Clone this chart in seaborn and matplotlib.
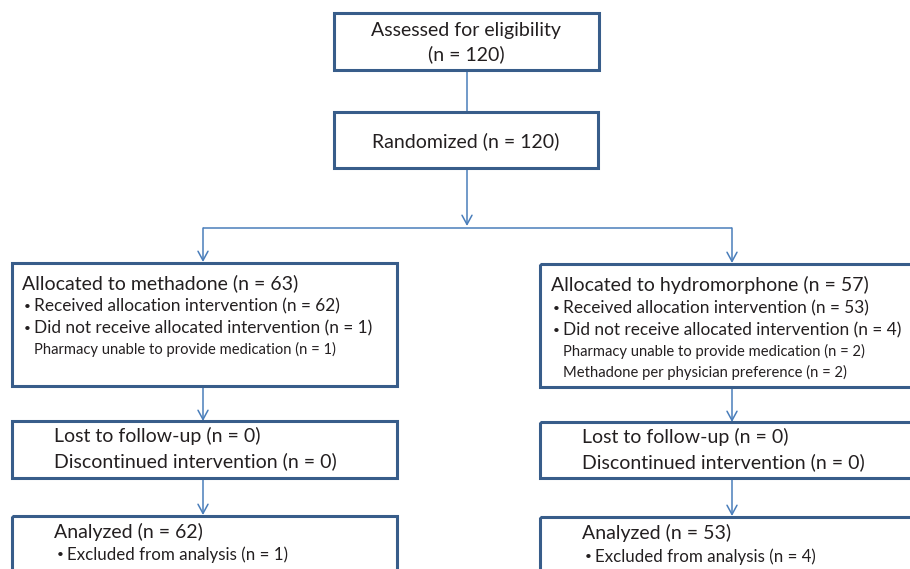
import matplotlib
matplotlib.use("Agg")
import matplotlib.pyplot as plt
from matplotlib.patches import Rectangle
import seaborn as sns

sns.set_theme(style="white")
plt.rcParams['font.family'] = ['Lato', 'DejaVu Sans']

# ---- data ----
screened_n = 120
randomized_n = 120
arm_names = ["methadone", "hydromorphone"]
allocated_n = [63, 57]
received_n = [62, 53]
not_received_n = [1, 4]
not_received_reasons = [
    ["Pharmacy unable to provide medication (n = 1)"],
    ["Pharmacy unable to provide medication (n = 2)",
     "Methadone per physician preference (n = 2)"],
]
lost_n = [0, 0]
discontinued_n = [0, 0]
analyzed_n = [62, 53]
excluded_n = [1, 4]

# ---- styling ----
BOX = "#385D8A"
LINE = "#4A7EBB"
TXT = "#231F20"
F_MAIN = 14.0
F_BUL = 12.4
F_SUB = 10.6
F_EXC = 12.2
F_DOT = 8.5

fig = plt.figure(figsize=(9.1, 5.69), dpi=100)
ax = fig.add_axes([0, 0, 1, 1])
ax.set_xlim(0, 910)
ax.set_ylim(569, 0)
ax.axis("off")


def box(x0, y0, x1, y1):
    ax.add_patch(Rectangle((x0, y0), x1 - x0, y1 - y0, fill=False,
                           edgecolor=BOX, lw=2.2, clip_on=True, zorder=3))


def line(x0, y0, x1, y1):
    ax.plot([x0, x1], [y0, y1], color=LINE, lw=1.1, solid_capstyle="butt", zorder=2)


def arrow(x, y0, y1):
    ax.annotate("", xy=(x, y1), xytext=(x, y0),
                arrowprops=dict(arrowstyle="->,head_length=0.55,head_width=0.3",
                                color=LINE, lw=1.1, shrinkA=0, shrinkB=0), zorder=2)


def txt(x, y, s, size, ha="left"):
    ax.text(x, y, s, fontsize=size, color=TXT, ha=ha, va="center", zorder=4)


# top boxes
box(334, 13, 599, 70)
txt(466, 30, "Assessed for eligibility", F_MAIN, ha="center")
txt(466, 54, f"(n = {screened_n})", F_MAIN, ha="center")
line(467, 70, 467, 112)

box(334, 112, 598, 168)
txt(466, 141, f"Randomized (n = {randomized_n})", F_MAIN, ha="center")
arrow(467, 168, 226)
line(203, 228, 732, 228)

arm_x = [203, 732]
arm_box = [(12, 397), (540, 935)]
arm_dy = [0, 1]
for i in range(2):
    cx = arm_x[i]
    bx0, bx1 = arm_box[i]
    d = arm_dy[i]
    arrow(cx, 228, 262 + d)
    box(bx0, 263 + d, bx1, 386 + d)
    tx = bx0 + 10 + (1 if i else 0)
    txt(tx, 283 + 2 * d, f"Allocated to {arm_names[i]} (n = {allocated_n[i]})", F_MAIN)
    txt(tx + 2, 306 + 2 * d, "•", F_DOT)
    txt(tx + 12, 306 + 2 * d, f"Received allocation intervention (n = {received_n[i]})", F_BUL)
    txt(tx + 2, 328 + 2 * d, "•", F_DOT)
    txt(tx + 12, 328 + 2 * d, f"Did not receive allocated intervention (n = {not_received_n[i]})", F_BUL)
    for j, r in enumerate(not_received_reasons[i]):
        txt(tx + 12, 349 + 2 * d + 21 * j, r, F_SUB)

    arrow(cx, 386 + d, 421 + d)
    box(bx0, 421 + d, bx1, 478)
    tx2 = bx0 + 42
    txt(tx2, 436 + d, f"Lost to follow-up (n = {lost_n[i]})", F_MAIN)
    txt(tx2, 461 + d, f"Discontinued intervention (n = {discontinued_n[i]})", F_MAIN)

    arrow(cx, 478, 515 + d)
    box(bx0, 516 + d, bx1, 600)
    txt(tx2, 532 + d, f"Analyzed (n = {analyzed_n[i]})", F_MAIN)
    txt(tx2 + 3, 555 + 2 * d, "•", F_DOT)
    txt(tx2 + 13, 555 + 2 * d, f"Excluded from analysis (n = {excluded_n[i]})", F_EXC)

fig.savefig("out.png", dpi=100, facecolor="white")
